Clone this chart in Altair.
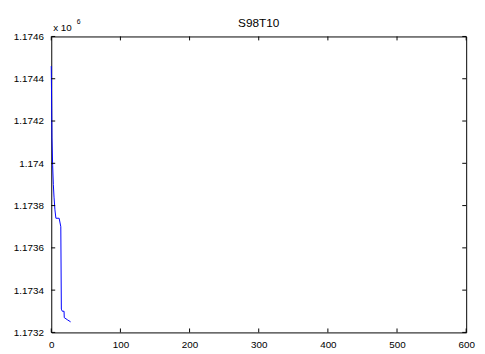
import altair as alt
import pandas as pd

# Data (y in raw units, shown x 10^6)
iters = [0, 0.5, 1, 2, 3, 4, 5.3, 6.7, 11.4, 13.8, 14.6, 16, 18.5, 18.8, 23.2, 28]
values = [1174460, 1174300, 1174120, 1173990, 1173900, 1173840, 1173780, 1173740,
          1173740, 1173700, 1173310, 1173300, 1173300, 1173270, 1173260, 1173250]
x_ticks = [0, 100, 200, 300, 400, 500, 600]
y_ticks = [1173200, 1173400, 1173600, 1173800, 1174000, 1174200, 1174400, 1174600]
title_text = "S98T10"

W, H = 422, 301
FONT = "Liberation Sans"

df = pd.DataFrame({"x": iters, "y": values})
xt = pd.DataFrame({"x": x_ticks})
yt = pd.DataFrame({"y": y_ticks})

xscale = alt.Scale(domain=[0, 600], nice=False, zero=False)
yscale = alt.Scale(domain=[1173200, 1174600], nice=False, zero=False)

line = alt.Chart(df).mark_line(color="#0000ff", strokeWidth=1).encode(
    x=alt.X("x:Q", scale=xscale, title=None,
            axis=alt.Axis(values=x_ticks, ticks=False, domain=False, grid=False,
                          labelFlush=False, labelOverlap=False, labelPadding=7,
                          labelFontSize=10, labelFont=FONT, labelColor="black")),
    y=alt.Y("y:Q", scale=yscale, title=None,
            axis=alt.Axis(values=y_ticks, ticks=False, domain=False, grid=False,
                          labelOverlap=False, labelPadding=8, labelFontSize=10,
                          labelFont=FONT, labelColor="black",
                          labelExpr="format(datum.value/1e6, '.4~f')")),
)

tick_style = dict(color="black", strokeWidth=1)
xb = alt.Chart(xt).mark_rule(**tick_style).encode(x=alt.X("x:Q", scale=xscale), y=alt.value(H), y2=alt.value(H - 4))
xtp = alt.Chart(xt).mark_rule(**tick_style).encode(x=alt.X("x:Q", scale=xscale), y=alt.value(0), y2=alt.value(4))
yl = alt.Chart(yt).mark_rule(**tick_style).encode(y=alt.Y("y:Q", scale=yscale), x=alt.value(0), x2=alt.value(4))
yr = alt.Chart(yt).mark_rule(**tick_style).encode(y=alt.Y("y:Q", scale=yscale), x=alt.value(W), x2=alt.value(W - 4))

mult = alt.Chart(pd.DataFrame({"t": ["x 10"]})).mark_text(
    align="left", baseline="alphabetic", fontSize=10, font=FONT, color="black"
).encode(text="t:N", x=alt.value(2), y=alt.value(-6))
sup = alt.Chart(pd.DataFrame({"t": ["6"]})).mark_text(
    align="left", baseline="alphabetic", fontSize=7, font=FONT, color="black"
).encode(text="t:N", x=alt.value(26), y=alt.value(-13))
ttl = alt.Chart(pd.DataFrame({"t": [title_text]})).mark_text(
    align="center", baseline="alphabetic", fontSize=12, font=FONT, color="black"
).encode(text="t:N", x=alt.value(W / 2), y=alt.value(-10))

chart = alt.layer(line, xb, xtp, yl, yr, mult, sup, ttl).properties(
    width=W, height=H,
    autosize=alt.AutoSizeParams(type="none"),
    padding={"left": 44, "top": 26, "right": 11, "bottom": 19},
).configure(background="white").configure_view(stroke="black", strokeWidth=1)

chart.save("out.html", embed_options={"renderer": "svg", "actions": False})
